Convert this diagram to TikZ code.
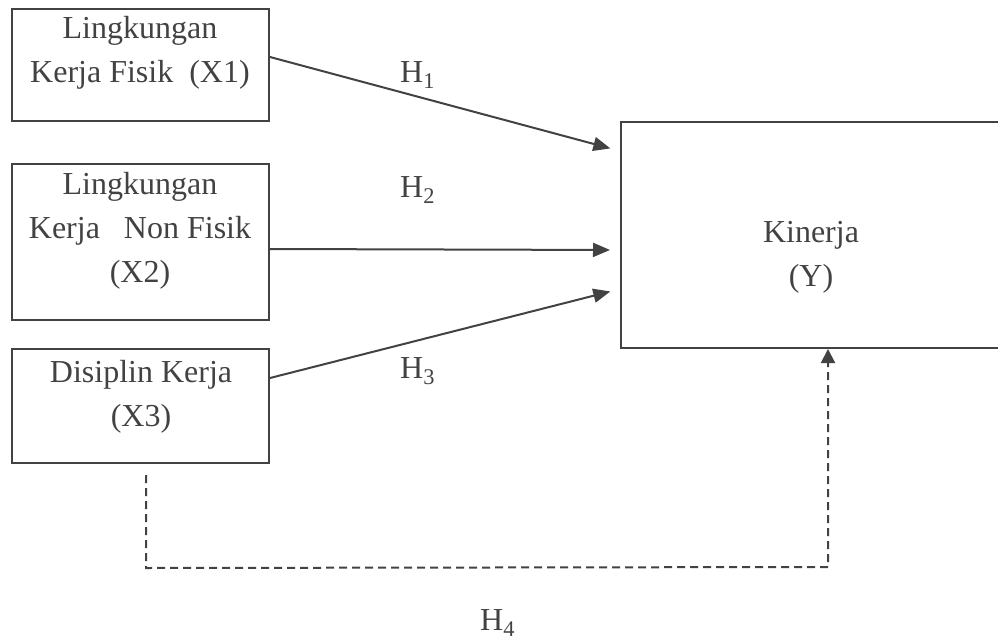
\documentclass[tikz,border=0pt]{standalone}
\usepackage{fontspec}
\setmainfont{Liberation Serif}
\usetikzlibrary{arrows.meta}
\definecolor{ink}{HTML}{424242}
\begin{document}
\begin{tikzpicture}[x=1pt,y=-1pt,
  box/.style={draw=ink, line width=2pt, minimum width=257pt, inner sep=0pt, anchor=north west},
  txt/.style={text=ink, align=center, inner sep=0pt, font=\fontsize{32}{44}\selectfont},
  hyp/.style={text=ink, anchor=base west, inner sep=0pt, font=\fontsize{32}{38}\selectfont},
  link/.style={draw=ink, line width=2pt, -{Triangle[length=17pt,width=14pt]}, shorten >=10pt},
  dep/.style={draw=ink, line width=2pt, dash pattern=on 8pt off 5pt, -{Triangle[length=14pt,width=14pt]}}
]
\useasboundingbox (0,0) rectangle (998,642);
\clip (0,0) rectangle (998,642);

% variable boxes
\node[box, minimum height=112pt] (x1) at (11,8) {};
\node[box, minimum height=156pt] (x2) at (11,163) {};
\node[box, minimum height=114pt] (x3) at (11,348) {};
\node[box, minimum width=420pt, minimum height=226pt] (y) at (620,121) {};

% box texts
\node[txt] (t1) at (140,53) {Lingkungan\\Kerja Fisik\ \ (X1)};
\node[txt] (t2) at (140,231) {Lingkungan\\Kerja\ \ \ Non Fisik\\(X2)};
\node[txt] (t3) at (141,397) {Disiplin Kerja\\(X3)};
\node[txt] (ty) at (811,257) {Kinerja\\(Y)};

% direct effects
\draw[link] ([yshift=8pt]x1.east) -- ([yshift=84pt]y.west);
\draw[link] ([yshift=-7pt]x2.east) -- ([yshift=-15pt]y.west);
\draw[link] ([yshift=28pt]x3.east) -- ([yshift=-54pt]y.west);

% dashed path from X3 round to Y
\coordinate (dl) at (146,568);
\coordinate (dr) at (828,567);
\draw[dep] ([yshift=-11pt]x3.south -| dl) -- (dl) -- (dr) -- (dr |- y.south);

% hypothesis labels
\node[hyp] (h1) at (400,82) {H\textsubscript{1}};
\node[hyp] (h2) at (400,197) {H\textsubscript{2}};
\node[hyp] (h3) at (400,378) {H\textsubscript{3}};
\node[hyp] (h4) at (480,630) {H\textsubscript{4}};
\end{tikzpicture}
\end{document}
